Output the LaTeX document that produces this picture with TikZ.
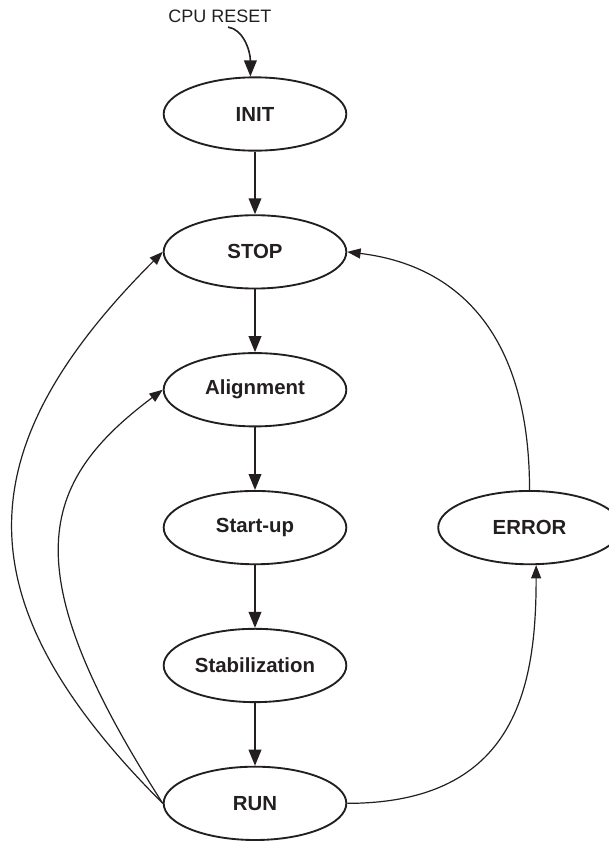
\documentclass[tikz,border=0pt]{standalone}
\usepackage{fontspec}
\setmainfont{Liberation Sans}
\usetikzlibrary{positioning}
\usetikzlibrary{shapes.geometric}
\usetikzlibrary{arrows.meta}
\definecolor{ink}{HTML}{231F20}

\begin{document}
\begin{tikzpicture}[x=0.75pt, y=-0.75pt,
  mode/.style={ellipse, draw=ink, line width=1.4pt, minimum width=137pt, minimum height=55pt, inner sep=0pt, text=ink, font=\bfseries\fontsize{15.3}{18}\selectfont},
  mainarrow/.style={draw=ink, line width=1.2pt, -{Triangle[length=12pt, width=9.5pt]}},
  sidearrow/.style={draw=ink, line width=0.9pt, -{Triangle[length=10pt, width=7.5pt]}},
  node distance=47pt]
\useasboundingbox (0,0) rectangle (609,844);

% Main column
\node [mode] at (255,114) (1INIT) {INIT};
\node [mode, below=of 1INIT] (2STOP) {STOP};
\node [mode, below=of 2STOP] (3Align) {Alignment};
\node [mode, below=of 3Align] (4Start) {Start-up};
\node [mode, below=of 4Start] (5Stab) {Stabilization};
\node [mode, below=of 5Stab] (6RUN) {RUN};

% Side state and entry label
\node [mode, right=67.5pt of 4Start] (4ERROR) {ERROR};
\node [text=ink, font=\fontsize{13.5}{16}\selectfont] at (220,16) (0reset) {CPU RESET};

% Connections
\draw [mainarrow] ([xshift=6pt]0reset.south) .. controls +(15,2) and +(0,-26) .. (1INIT.97);
\draw [mainarrow] (node cs:name=1INIT) -- (node cs:name=2STOP);
\draw [mainarrow] (node cs:name=2STOP) -- (node cs:name=3Align);
\draw [mainarrow] (node cs:name=3Align) -- (node cs:name=4Start);
\draw [mainarrow] (node cs:name=4Start) -- (node cs:name=5Stab);
\draw [mainarrow] (node cs:name=5Stab) -- (node cs:name=6RUN);

\draw [sidearrow] (6RUN.west) .. controls +(-200,-200) and +(-200,200) .. (2STOP.west);
\draw [sidearrow] (6RUN.west) .. controls +(-151,-235) and +(-124,93) .. (3Align.west);
\draw [sidearrow] (6RUN.east) .. controls +(170,0) and +(0,120) .. (4ERROR.280);
\draw [sidearrow] (4ERROR.north) .. controls +(0,-159) and +(108,13) .. (2STOP.east);

\end{tikzpicture}
\end{document}
